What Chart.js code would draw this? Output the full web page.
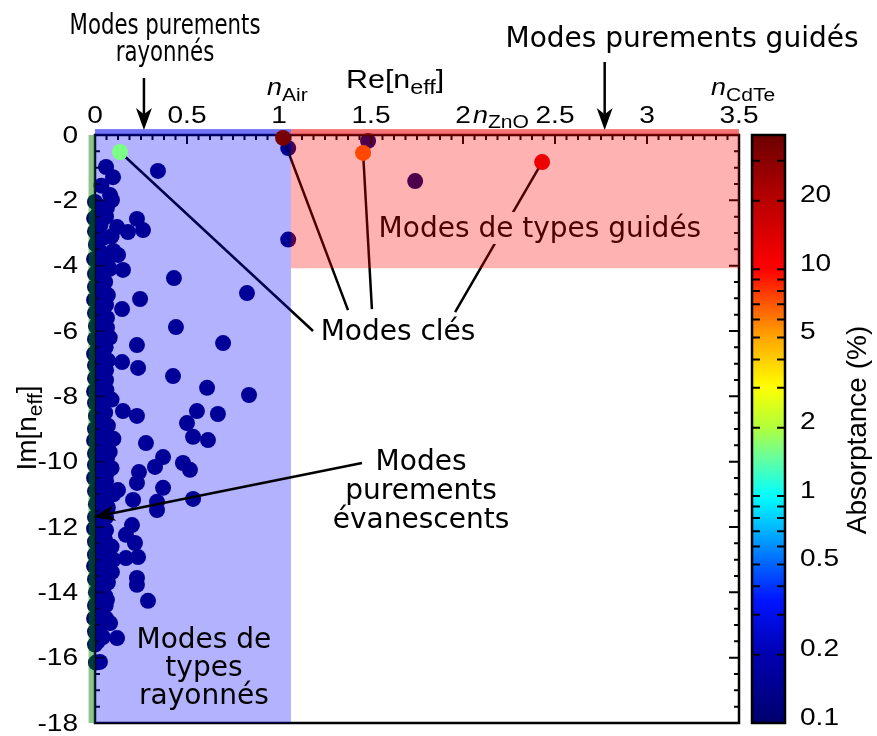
<!DOCTYPE html>
<html>
<head>
<meta charset="utf-8">
<script src="https://cdn.jsdelivr.net/npm/chart.js@4/dist/chart.umd.min.js"></script>
<style>
  html, body { margin: 0; padding: 0; background: #fff; }
</style>
</head>
<body>
<canvas id="modesChart" width="877" height="736"></canvas>
<script>
// Effective indices of the modes: real part, imaginary part, absorptance (%)
const modeRe = [
  // column at Re = 0
  0.0, -0.005, 0.0, 0.005, -0.005, 0.0, 0.0, -0.005, 0.0, 0.005, 0.0, -0.005,
  0.0, 0.0, -0.005, 0.0, 0.005, 0.0, -0.005, 0.0, 0.0, -0.005, 0.0, 0.005,
  0.0, -0.005, 0.0, 0.0, -0.005, 0.0, 0.005, 0.0, -0.005, 0.0, 0.0, 0.005,
  // just right of Re = 0
  0.018, 0.02, 0.015, 0.02, 0.018, 0.022, 0.015, 0.02, 0.018, 0.02, 0.016,
  0.022, 0.018, 0.02, 0.015, 0.02, 0.018, 0.022, 0.016, 0.02, 0.018, 0.02,
  0.015, 0.022, 0.018, 0.02, 0.016, 0.02, 0.018, 0.022, 0.015, 0.02, 0.018, 0.016,
  // second column
  0.035, 0.04, 0.03, 0.045, 0.035, 0.04, 0.03, 0.045, 0.035, 0.04, 0.03,
  0.045, 0.035, 0.04, 0.03, 0.045, 0.035, 0.04, 0.03, 0.045, 0.035, 0.04,
  0.03, 0.045, 0.035, 0.04, 0.03, 0.045, 0.035, 0.04, 0.03, 0.035, 0.03,
  // third column
  0.06, 0.065, 0.055, 0.06, 0.065, 0.058, 0.06, 0.062, 0.055, 0.06,
  0.065, 0.06, 0.058, 0.062, 0.06, 0.055, 0.065, 0.06, 0.058, 0.06,
  0.09, 0.1, 0.08, 0.07, 0.065, 0.08, 0.07, 0.06, 0.09, 0.07, 0.1, 0.08,
  0.09, 0.06, 0.1, 0.07, 0.06, 0.09, 0.1, 0.07, 0.055, 0.125, 0.152, 0.147,
  // scattered radiative modes
  0.342, 0.06, 0.098, 0.082, 0.092, 0.065, 0.228, 0.261, 0.179, 0.12,
  0.429, 0.826, 0.245, 0.147, 0.44, 0.696, 0.228, 0.234, 0.424, 0.609,
  0.837, 0.152, 0.228, 0.554, 0.668, 0.5, 0.533, 0.614, 0.277, 0.37,
  0.326, 0.478, 0.516, 0.239, 0.228, 0.37, 0.125, 0.207, 0.337, 0.533,
  0.337, 0.201, 0.168, 0.217, 0.234, 0.168, 0.228, 0.228, 0.288, 0.092,
  0.065, 0.082, 0.12, 0.027, 0.043,
  // modes beyond n = 1
  1.05, 1.05, 1.484, 1.74
];
const modeIm = [
  -2.05, -2.55, -2.95, -3.35, -3.8, -4.25, -4.65, -5.05, -5.45, -5.85, -6.25, -6.7,
  -7.05, -7.45, -7.85, -8.2, -8.6, -9.0, -9.35, -9.75, -10.1, -10.5, -10.9, -11.3,
  -11.7, -12.05, -12.45, -12.85, -13.2, -13.6, -14.0, -14.4, -14.8, -15.2, -15.6, -16.15,
  -2.4, -2.85, -3.25, -3.7, -4.1, -4.55, -4.95, -5.35, -5.75, -6.15, -6.55,
  -6.95, -7.35, -7.75, -8.1, -8.5, -8.9, -9.25, -9.65, -10.0, -10.4, -10.8,
  -11.2, -11.6, -11.95, -12.35, -12.75, -13.1, -13.5, -13.9, -14.3, -14.7, -15.1, -15.5,
  -1.55, -2.3, -2.75, -3.15, -3.6, -4.0, -4.45, -4.85, -5.25, -5.65, -6.05,
  -6.45, -6.85, -7.25, -7.65, -8.0, -8.4, -8.8, -9.15, -9.55, -9.95, -10.3,
  -10.7, -11.1, -11.5, -11.85, -12.25, -12.65, -13.05, -13.45, -13.85, -14.55, -14.95,
  -2.5, -3.9, -4.5, -5.2, -5.9, -6.5, -7.2, -7.8, -8.5, -9.1,
  -9.9, -10.4, -10.9, -11.3, -11.7, -12.4, -12.9, -13.3, -14.4, -14.8,
  -3.1, -3.55, -4.1, -4.9, -5.6, -6.2, -6.9, -7.5, -8.1, -8.9, -9.3, -9.7,
  -10.2, -10.6, -11.0, -11.4, -12.1, -12.6, -13.0, -13.7, -14.1, -3.67, -4.13, -6.95,
  -1.1, -0.98, -1.29, -1.84, -1.99, -2.23, -2.57, -2.91, -2.97, -2.82,
  -4.38, -4.84, -5.02, -5.33, -5.88, -6.37, -6.43, -7.13, -7.38, -7.74,
  -7.96, -8.45, -8.6, -8.45, -8.54, -8.82, -9.24, -9.34, -9.43, -9.86,
  -10.16, -10.04, -10.25, -10.32, -10.65, -10.8, -10.87, -11.17, -11.23, -11.14,
  -11.48, -11.94, -12.24, -12.49, -12.92, -12.95, -13.56, -13.77, -14.26, -13.38,
  -14.23, -14.94, -15.4, -16.13, -15.37,
  -0.4, -3.2, -0.18, -1.41
];
const modeAbs = modeRe.map(() => 0.1);

// Key modes (highlighted)
const keyRe = [0.136, 1.022, 1.457, 2.43];
const keyIm = [-0.52, -0.09, -0.55, -0.83];
const keyAbs = [1.6, 35, 7.5, 12];

// Colour bar ticks (%)
const absTicks = [0.1, 0.2, 0.5, 1, 2, 5, 10, 20];
const absMinorTicks = [0.3, 0.4, 0.6, 0.7, 0.8, 0.9, 3, 4, 6, 7, 8, 9, 30];

// colormap stops in log10(absorptance)
const cmapStops = [
  [-1.0, [0, 0, 110]],
  [-0.7, [0, 0, 175]],
  [-0.46, [0, 20, 255]],
  [-0.3, [0, 100, 255]],
  [-0.15, [0, 180, 255]],
  [0.0, [0, 255, 255]],
  [0.18, [110, 255, 150]],
  [0.3, [175, 255, 60]],
  [0.48, [255, 255, 0]],
  [0.7, [255, 165, 0]],
  [0.85, [255, 85, 0]],
  [1.0, [255, 0, 0]],
  [1.3, [185, 0, 0]],
  [1.6, [105, 0, 0]]
];

function absColor(v) {
  const t = Math.log10(v);
  if (t <= cmapStops[0][0]) return 'rgb(' + cmapStops[0][1].join(',') + ')';
  for (let i = 1; i < cmapStops.length; i++) {
    const [t1, c1] = cmapStops[i];
    const [t0, c0] = cmapStops[i - 1];
    if (t <= t1) {
      const f = (t - t0) / (t1 - t0);
      const c = c0.map((a, k) => Math.round(a + (c1[k] - a) * f));
      return 'rgb(' + c.join(',') + ')';
    }
  }
  return 'rgb(' + cmapStops[cmapStops.length - 1][1].join(',') + ')';
}

const SANS = '"Liberation Sans", Arial, sans-serif';
const DEJA = '"DejaVu Sans", sans-serif';
const WIDE = 1.17; // axis lettering is a bit wider than plain Helvetica

function richWidth(ctx, parts) {
  let w = 0;
  parts.forEach(p => { ctx.font = p.font; w += ctx.measureText(p.text).width; });
  return w;
}
function drawRich(ctx, parts, x, y) {
  let cx = x;
  parts.forEach(p => {
    ctx.font = p.font;
    ctx.fillText(p.text, cx, y + (p.dy || 0));
    cx += ctx.measureText(p.text).width;
  });
}
// stretched text, anchored at (x, y) with the current textAlign
function wideText(ctx, t, x, y, sx) {
  ctx.save();
  ctx.translate(x, y);
  ctx.scale(sx, 1);
  ctx.fillText(t, 0, 0);
  ctx.restore();
}
function wideRich(ctx, parts, x, y, sx) {
  ctx.save();
  ctx.translate(x, y);
  ctx.scale(sx, 1);
  drawRich(ctx, parts, 0, 0);
  ctx.restore();
}

function drawLines(ctx, lines, cx, baseline, step, sx) {
  ctx.save();
  ctx.font = '28px ' + DEJA;
  ctx.fillStyle = '#000';
  ctx.textAlign = 'center';
  ctx.textBaseline = 'alphabetic';
  lines.forEach((t, i) => wideText(ctx, t, cx, baseline + i * step, sx || 1));
  ctx.restore();
}

function drawArrow(ctx, x0, y0, x1, y1) {
  const a = Math.atan2(y1 - y0, x1 - x0);
  const hl = 22, hw = 8;
  const ca = Math.cos(a), sa = Math.sin(a);
  const nx = x1 - hl * 0.72 * ca, ny = y1 - hl * 0.72 * sa;
  ctx.beginPath();
  ctx.moveTo(x0, y0);
  ctx.lineTo(nx, ny);
  ctx.stroke();
  const bx = x1 - hl * ca, by = y1 - hl * sa;
  ctx.beginPath();
  ctx.moveTo(x1, y1);
  ctx.lineTo(bx - hw * sa, by + hw * ca);
  ctx.lineTo(nx, ny);
  ctx.lineTo(bx + hw * sa, by - hw * ca);
  ctx.closePath();
  ctx.fill();
}

const fmt = v => String(+v.toFixed(2));

// Frame, annotation lines and shaded regions go between the two datasets
const regionsPlugin = {
  id: 'regions',
  afterDatasetDraw(chart, args) {
    if (args.index !== 1) return;
    const ctx = chart.ctx;
    const a = chart.chartArea;
    const x = chart.scales.x, y = chart.scales.y;
    ctx.save();

    // frame
    ctx.strokeStyle = '#000';
    ctx.lineWidth = 2.5;
    ctx.strokeRect(a.left, a.top, a.right - a.left, a.bottom - a.top);

    // inward ticks
    ctx.lineWidth = 2;
    ctx.beginPath();
    for (let v = 0; v <= 3.5001; v += 0.0625) {
      const px = x.getPixelForValue(v);
      const major = Math.abs(v / 0.5 - Math.round(v / 0.5)) < 1e-6;
      ctx.moveTo(px, a.top);
      ctx.lineTo(px, a.top + (major ? 9 : 5));
    }
    for (let v = 0; v >= -18.0001; v -= 0.5) {
      const py = y.getPixelForValue(v);
      const major = Math.abs(v / 2 - Math.round(v / 2)) < 1e-6;
      const len = major ? 10 : 5;
      ctx.moveTo(a.left, py); ctx.lineTo(a.left + len, py);
      ctx.moveTo(a.right, py); ctx.lineTo(a.right - len, py);
    }
    ctx.stroke();

    // lines from the key modes to their label
    const ends = [[1.185, -6.0], [1.375, -5.36], [1.505, -5.33], [1.957, -5.42]];
    ctx.lineWidth = 2.5;
    ctx.beginPath();
    keyRe.forEach((re, i) => {
      ctx.moveTo(x.getPixelForValue(re), y.getPixelForValue(keyIm[i]));
      ctx.lineTo(x.getPixelForValue(ends[i][0]), y.getPixelForValue(ends[i][1]));
    });
    ctx.stroke();

    // guided-type label sits under the red shading
    ctx.font = '28px ' + DEJA;
    const gt = 'Modes de types guidés';
    const gx = x.getPixelForValue(2.418);
    const gw = ctx.measureText(gt).width;
    ctx.fillStyle = '#fff';
    ctx.fillRect(gx - gw / 2 - 4, 212, gw + 8, 32);
    ctx.fillStyle = '#000';
    ctx.textAlign = 'center';
    ctx.fillText(gt, gx, 237);

    // shaded regions
    const yTop = y.getPixelForValue(0.18);
    const xSplit = x.getPixelForValue(1.065);
    ctx.fillStyle = 'rgba(0,0,255,0.3)';
    ctx.fillRect(a.left, yTop, xSplit - a.left, a.bottom - yTop);
    ctx.fillStyle = 'rgba(0,0,230,0.35)';
    ctx.fillRect(a.left, yTop, xSplit - a.left, a.top - yTop);
    const yRed = y.getPixelForValue(-4.08);
    ctx.fillStyle = 'rgba(255,0,0,0.3)';
    ctx.fillRect(xSplit, yTop, a.right - xSplit, yRed - yTop);
    ctx.fillStyle = 'rgba(230,0,0,0.35)';
    ctx.fillRect(xSplit, yTop, a.right - xSplit, a.top - yTop);
    // evanescent strip at Re = 0
    const xg = x.getPixelForValue(-0.035);
    ctx.fillStyle = 'rgba(0,128,0,0.45)';
    ctx.fillRect(xg, a.top, a.left - xg, a.bottom - a.top);
    ctx.restore();
  },
  afterDraw(chart) {
    const ctx = chart.ctx;
    const a = chart.chartArea;
    const x = chart.scales.x, y = chart.scales.y, cb = chart.scales.cb;
    ctx.save();
    ctx.fillStyle = '#000';
    ctx.strokeStyle = '#000';
    ctx.lineWidth = 2.5;

    // tick labels
    ctx.font = '24px ' + SANS;
    ctx.textBaseline = 'alphabetic';
    ctx.textAlign = 'center';
    x.ticks.forEach(t => wideText(ctx, fmt(t.value), x.getPixelForValue(t.value), 123, WIDE));
    ctx.textAlign = 'right';
    ctx.textBaseline = 'middle';
    y.ticks.forEach(t => wideText(ctx, fmt(t.value), 78, y.getPixelForValue(t.value) + 1, WIDE));
    ctx.textAlign = 'left';
    cb.ticks.forEach(t => wideText(ctx, fmt(t.value), 800, cb.getPixelForValue(t.value) - 5, WIDE));
    ctx.textBaseline = 'alphabetic';

    // annotations inside the plot
    drawLines(ctx, ['Modes clés'], x.getPixelForValue(1.647), 340, 0);
    drawLines(ctx, ['Modes', 'purements', 'évanescents'], x.getPixelForValue(1.772), 470, 29);
    drawLines(ctx, ['Modes de', 'types', 'rayonnés'], x.getPixelForValue(0.592), 648, 28);
    drawArrow(ctx, x.getPixelForValue(1.451), y.getPixelForValue(-10.04),
      x.getPixelForValue(-0.01), y.getPixelForValue(-11.7));

    // annotations above the plot
    drawLines(ctx, ['Modes purements', 'rayonnés'], 165, 34, 27, 0.76);
    drawLines(ctx, ['Modes purements guidés'], 682, 47, 0);
    drawArrow(ctx, x.getPixelForValue(0.266), 78, x.getPixelForValue(0.266), 130);
    drawArrow(ctx, x.getPixelForValue(2.77), 62, x.getPixelForValue(2.77), 130);

    // refractive index markers
    ctx.textAlign = 'left';
    const nf = 'italic 23px ' + SANS, sf = '18px ' + SANS;
    wideRich(ctx, [{ text: 'n', font: nf }, { text: 'Air', font: sf, dy: 6 }], 267, 95, WIDE);
    wideRich(ctx, [{ text: 'n', font: nf }, { text: 'ZnO', font: sf, dy: 5 }], 473, 123, WIDE);
    wideRich(ctx, [{ text: 'n', font: nf }, { text: 'CdTe', font: sf, dy: 6 }], 711, 95, WIDE);

    // axis titles
    const tf = '26px ' + SANS, tsf = '20px ' + SANS;
    wideRich(ctx, [{ text: 'Re[n', font: tf }, { text: 'eff', font: tsf, dy: 6 }, { text: ']', font: tf }], 346, 88, WIDE);
    const imParts = [{ text: 'Im[n', font: '28px ' + SANS }, { text: 'eff', font: '21px ' + SANS, dy: 6 }, { text: ']', font: '28px ' + SANS }];
    ctx.save();
    ctx.translate(36, 428);
    ctx.rotate(-Math.PI / 2);
    drawRich(ctx, imParts, -richWidth(ctx, imParts) / 2, 0);
    ctx.restore();

    // colour bar
    const bx0 = cb.left + 13, bx1 = cb.left + 46;
    for (let py = Math.floor(a.top); py < a.bottom; py++) {
      ctx.fillStyle = absColor(cb.getValueForPixel(py + 0.5));
      ctx.fillRect(bx0, py, bx1 - bx0, 1);
    }
    ctx.strokeStyle = '#000';
    ctx.lineWidth = 2.5;
    ctx.strokeRect(bx0, a.top, bx1 - bx0, a.bottom - a.top);
    ctx.lineWidth = 2;
    ctx.beginPath();
    absTicks.concat(absMinorTicks).forEach(v => {
      const py = cb.getPixelForValue(v);
      if (py <= a.top + 2 || py >= a.bottom - 2) return;
      ctx.moveTo(bx0, py); ctx.lineTo(bx0 + 8, py);
      ctx.moveTo(bx1, py); ctx.lineTo(bx1 - 8, py);
    });
    ctx.stroke();

    ctx.fillStyle = '#000';
    ctx.font = '28px ' + SANS;
    ctx.textAlign = 'center';
    ctx.textBaseline = 'middle';
    ctx.save();
    ctx.translate(858, 430);
    ctx.rotate(-Math.PI / 2);
    ctx.fillText('Absorptance (%)', 0, 0);
    ctx.restore();
    ctx.restore();
  }
};

new Chart(document.getElementById('modesChart').getContext('2d'), {
  type: 'scatter',
  data: {
    datasets: [
      {
        label: 'Modes clés',
        data: keyRe.map((re, i) => ({ x: re, y: keyIm[i] })),
        pointRadius: 8,
        pointBorderWidth: 0,
        pointBackgroundColor: keyAbs.map(absColor),
        clip: false
      },
      {
        label: 'Modes',
        data: modeRe.map((re, i) => ({ x: re, y: modeIm[i] })),
        pointRadius: 8,
        pointBorderWidth: 0,
        pointBackgroundColor: modeAbs.map(absColor),
        clip: false
      }
    ]
  },
  options: {
    responsive: false,
    animation: false,
    events: [],
    layout: { padding: { top: 0, bottom: 13, left: 0, right: 0 } },
    plugins: { legend: { display: false }, tooltip: { enabled: false } },
    scales: {
      x: {
        type: 'linear',
        position: 'top',
        min: 0,
        max: 3.5,
        grid: { display: false, drawTicks: false },
        border: { display: false },
        ticks: { stepSize: 0.5, display: false },
        afterFit: s => { s.height = 135; }
      },
      y: {
        type: 'linear',
        position: 'left',
        min: -18,
        max: 0,
        grid: { display: false, drawTicks: false },
        border: { display: false },
        ticks: { stepSize: 2, display: false },
        afterFit: s => { s.width = 95; }
      },
      cb: {
        type: 'logarithmic',
        position: 'right',
        min: 0.1,
        max: 39,
        grid: { display: false, drawTicks: false },
        border: { display: false },
        ticks: { display: false },
        afterBuildTicks: s => { s.ticks = absTicks.map(v => ({ value: v })); },
        afterFit: s => { s.width = 138; }
      }
    }
  },
  plugins: [regionsPlugin]
});
</script>
</body>
</html>
